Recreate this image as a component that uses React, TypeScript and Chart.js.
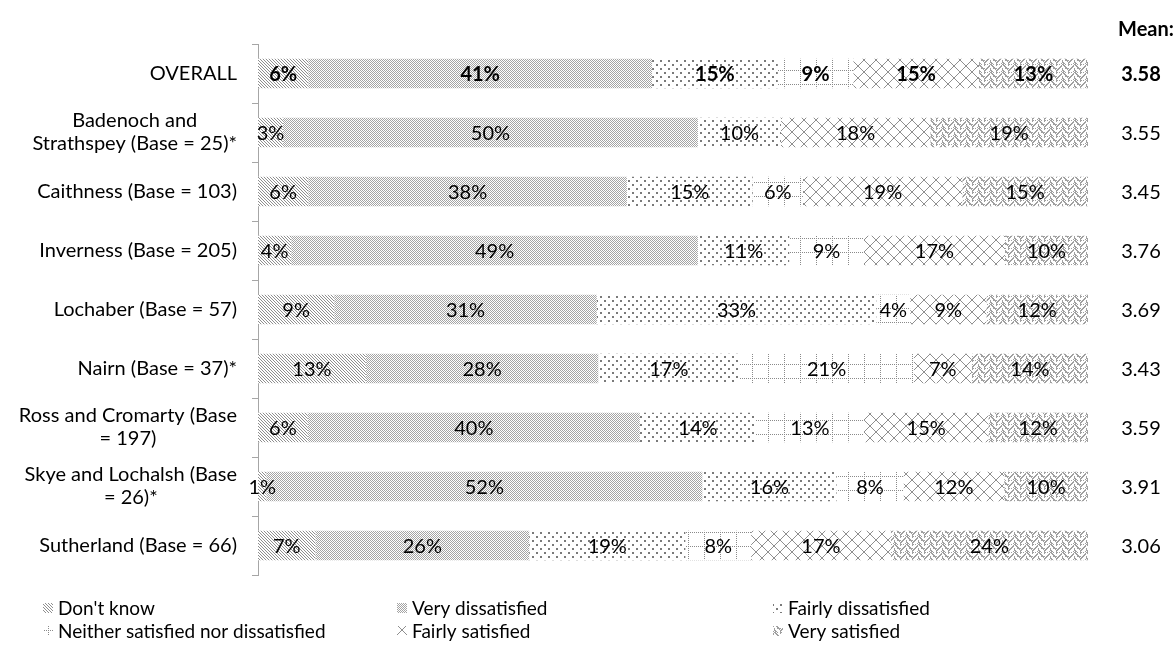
import React, { useEffect, useRef } from "react";
import { Chart, registerables } from "chart.js";

Chart.register(...registerables);

const categories: string[][] = [
  ["OVERALL"],
  ["Badenoch and", "Strathspey (Base = 25)*"],
  ["Caithness (Base = 103)"],
  ["Inverness (Base = 205)"],
  ["Lochaber (Base = 57)"],
  ["Nairn (Base = 37)*"],
  ["Ross and Cromarty (Base", "= 197)"],
  ["Skye and Lochalsh (Base", "= 26)*"],
  ["Sutherland (Base = 66)"],
];

const seriesNames = [
  "Don't know",
  "Very dissatisfied",
  "Fairly dissatisfied",
  "Neither satisfied nor dissatisfied",
  "Fairly satisfied",
  "Very satisfied",
];

const dontKnow = [6, 3, 6, 4, 9, 13, 6, 1, 7];
const veryDissatisfied = [41, 50, 38, 49, 31, 28, 40, 52, 26];
const fairlyDissatisfied = [15, 10, 15, 11, 33, 17, 14, 16, 19];
const neither = [9, 0, 6, 9, 4, 21, 13, 8, 8];
const fairlySatisfied = [15, 18, 19, 17, 9, 7, 15, 12, 17];
const verySatisfied = [13, 19, 15, 10, 12, 14, 12, 10, 24];

const means = ["3.58", "3.55", "3.45", "3.76", "3.69", "3.43", "3.59", "3.91", "3.06"];

const FONT = "Lato";
const SIZE = 20;

function makeTile(w: number, h: number, color: string, fn: (x: number, y: number) => boolean) {
  const c = document.createElement("canvas");
  c.width = w;
  c.height = h;
  const g = c.getContext("2d")!;
  g.fillStyle = "#ffffff";
  g.fillRect(0, 0, w, h);
  g.fillStyle = color;
  for (let y = 0; y < h; y++) {
    for (let x = 0; x < w; x++) {
      if (fn(x, y)) g.fillRect(x, y, 1, 1);
    }
  }
  return c;
}

function makeTiles() {
  return [
    // Don't know: diagonal "\" stripes
    makeTile(3, 3, "#8f8f8f", (x, y) => ((x - y + 6) % 3) === 0),
    // Very dissatisfied: small checker
    makeTile(4, 4, "#a4a4a4", (x, y) => ((x + y) % 2) === 0),
    // Fairly dissatisfied: sparse dots
    makeTile(8, 8, "#7a7a7a", (x, y) => (x < 2 && y < 2) || (x >= 4 && x < 6 && y >= 4 && y < 6)),
    // Neither: dotted grid
    makeTile(16, 14, "#8a8a8a", (x, y) => (x === 0 && y % 2 === 0) || (y === 0 && x % 2 === 0)),
    // Fairly satisfied: diamond lattice
    makeTile(12, 12, "#8f8f8f", (x, y) => x === y || x === 11 - y),
    // Very satisfied: zigzag weave
    makeTile(12, 8, "#a0a0a0", (x, y) => {
      const a = (x + y) % 6;
      const b = (x - y + 12) % 6;
      return (x < 6 ? a < 2 : b < 2) || (y % 4 === 0 && x % 3 === 0);
    }),
  ];
}

export default function App() {
  const ref = useRef<HTMLCanvasElement>(null);

  useEffect(() => {
    const canvas = ref.current!;
    const ctx = canvas.getContext("2d")!;
    const tiles = makeTiles();
    const patterns = tiles.map((t) => ctx.createPattern(t, "repeat")!);

    const raw = [dontKnow, veryDissatisfied, fairlyDissatisfied, neither, fairlySatisfied, verySatisfied];
    const totals = categories.map((_, i) => raw.reduce((s, arr) => s + arr[i], 0));

    const datasets = raw.map((arr, k) => ({
      label: seriesNames[k],
      data: arr.map((v, i) => (v / totals[i]) * 100),
      rawValues: arr,
      backgroundColor: patterns[k],
      borderWidth: 0,
      barPercentage: 0.5,
      categoryPercentage: 1,
    }));

    const overlay = {
      id: "overlay",
      afterDatasetsDraw(chart: any) {
        const c = chart.ctx;
        c.save();
        c.textBaseline = "middle";
        c.textAlign = "center";
        c.fillStyle = "#000";
        chart.data.datasets.forEach((ds: any, k: number) => {
          const meta = chart.getDatasetMeta(k);
          meta.data.forEach((bar: any, i: number) => {
            const v = ds.rawValues[i];
            if (!v) return;
            const cx = (bar.x + bar.base) / 2;
            c.font = (i === 0 ? "bold " : "") + SIZE + "px " + FONT;
            c.fillText(v + "%", cx, bar.y + 1);
          });
        });
        c.restore();
      },
      afterDraw(chart: any) {
        const c = chart.ctx;
        const ys = chart.scales.y;
        c.save();
        c.fillStyle = "#000";
        c.textBaseline = "middle";
        const lh = 23;
        categories.forEach((lines, i) => {
          const y = ys.getPixelForValue(i);
          c.font = SIZE + "px " + FONT;
          const widths = lines.map((l) => c.measureText(l).width);
          const w = Math.max(...widths);
          const right = 237;
          c.textAlign = "center";
          lines.forEach((l, j) => {
            const ly = y + (j - (lines.length - 1) / 2) * lh;
            c.fillText(l, right - w / 2, ly);
          });
        });
        c.textAlign = "center";
        c.font = "bold " + SIZE + "px " + FONT;
        c.fillText("Mean:", 1146, 30);
        means.forEach((m, i) => {
          const y = ys.getPixelForValue(i);
          c.font = (i === 0 ? "bold " : "") + SIZE + "px " + FONT;
          c.fillText(m, 1141, y + 1);
        });
        const cols = [43, 397, 773];
        const rows = [608, 631];
        seriesNames.forEach((name, k) => {
          const col = cols[k % 3];
          const row = rows[Math.floor(k / 3)];
          c.fillStyle = patterns[k];
          c.fillRect(col, row - 5, 10, 10);
          c.fillStyle = "#000";
          c.textAlign = "left";
          c.font = "19px " + FONT;
          c.fillText(name, col + 15, row + 1);
        });
        c.restore();
      },
    };

    const chart = new Chart(ctx, {
      type: "bar",
      data: { labels: categories.map((l) => l.join(" ")), datasets: datasets as any },
      options: {
        animation: false,
        responsive: false,
        indexAxis: "y",
        layout: { padding: { top: 44, right: 88, bottom: 80, left: 0 } },
        plugins: { legend: { display: false }, tooltip: { enabled: false } },
        scales: {
          x: { stacked: true, min: 0, max: 100, display: false },
          y: {
            stacked: true,
            offset: true,
            afterFit(scale: any) {
              scale.width = 258;
            },
            ticks: { display: false },
            grid: {
              offset: true,
              drawOnChartArea: false,
              drawTicks: true,
              tickLength: 6,
              color: "#a6a6a6",
            },
            border: { display: true, color: "#a6a6a6" },
          },
        },
      },
      plugins: [overlay],
    });
    return () => chart.destroy();
  }, []);

  return (
    <div style={{ position: "fixed", left: 0, top: 0, width: 1176, height: 655, background: "#fff" }}>
      <canvas ref={ref} width={1176} height={655} style={{ width: 1176, height: 655 }} />
    </div>
  );
}
